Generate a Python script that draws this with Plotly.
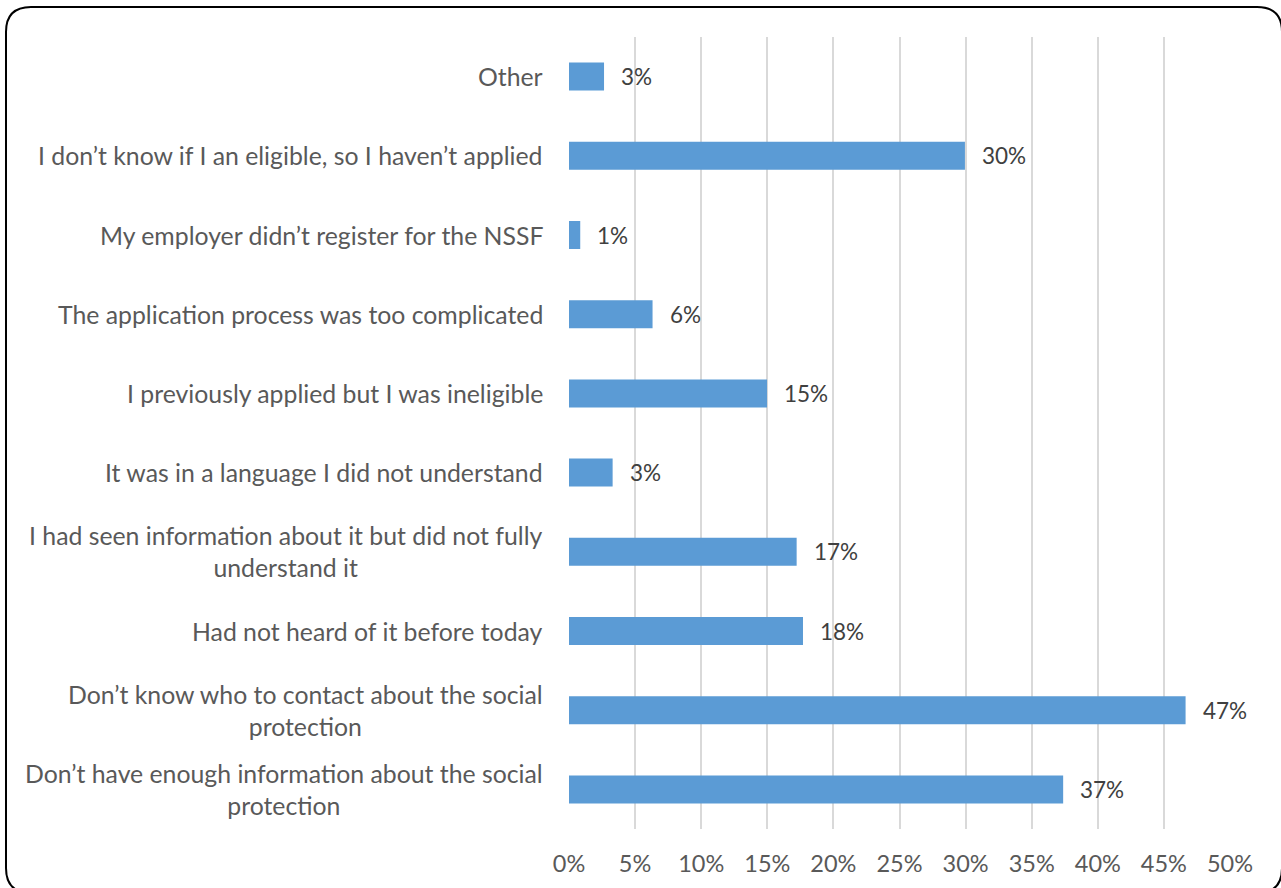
import plotly.graph_objects as go

# Survey responses: reasons for not applying, shares in percent
reasons = [
    "Other",
    "I don’t know if I an eligible, so I haven’t applied",
    "My employer didn’t register for the NSSF",
    "The application process was too complicated",
    "I previously applied but I was ineligible",
    "It was in a language I did not understand",
    "I had seen information about it but did not fully<br>understand it",
    "Had not heard of it before today",
    "Don’t know who to contact about the social<br>protection",
    "Don’t have enough information about the social<br>protection",
]
shares = [2.65, 29.95, 0.85, 6.32, 14.98, 3.30, 17.22, 17.70, 46.64, 37.38]
x_ticks = [0, 5, 10, 15, 20, 25, 30, 35, 40, 45, 50]
x_tick_labels = [f"{t}%" for t in x_ticks]

W, H = 1281, 888
ML, MR, MT, MB = 569, 51, 37, 59
PW, PH = W - ML - MR, H - MT - MB

FONT = "Lato"
BAR = "#5B9BD5"
AXIS_TXT = "#595959"
LABEL_TXT = "#404040"

fig = go.Figure(
    go.Bar(
        x=shares,
        y=reasons,
        orientation="h",
        marker=dict(color=BAR, line=dict(width=0)),
        width=0.354,
        hoverinfo="skip",
    )
)

annotations = []
# Category labels, lines centred on each other, left of the plot
for r in reasons:
    annotations.append(dict(
        x=0, xref="paper", y=r, yref="y",
        xanchor="right", yanchor="middle", xshift=-24,
        text=r, showarrow=False, align="center",
        font=dict(family=FONT, size=24.8, color=AXIS_TXT),
    ))
# Value labels past the bar ends
for r, v in zip(reasons, shares):
    annotations.append(dict(
        x=v, xref="x", y=r, yref="y",
        xanchor="left", yanchor="middle", xshift=15,
        text=f"{v:.0f}%", showarrow=False,
        font=dict(family=FONT, size=22.5, color=LABEL_TXT),
    ))


def px(xp, yp):
    return (xp - ML) / PW, (H - MB - yp) / PH


# Rounded outer frame
L, T, R, B, RAD = 6, 7, 1282, 893, 25
pts = [
    ("M", [(L + RAD, T)]),
    ("L", [(R - RAD, T)]),
    ("Q", [(R, T), (R, T + RAD)]),
    ("L", [(R, B - RAD)]),
    ("Q", [(R, B), (R - RAD, B)]),
    ("L", [(L + RAD, B)]),
    ("Q", [(L, B), (L, B - RAD)]),
    ("L", [(L, T + RAD)]),
    ("Q", [(L, T), (L + RAD, T)]),
]
path = ""
for cmd, ps in pts:
    path += cmd + " " + " ".join(f"{px(a, b)[0]:.5f},{px(a, b)[1]:.5f}" for a, b in ps) + " "
path += "Z"

fig.update_layout(
    width=W, height=H,
    margin=dict(l=ML, r=MR, t=MT, b=MB, pad=0),
    paper_bgcolor="white", plot_bgcolor="white",
    showlegend=False,
    annotations=annotations,
    shapes=[dict(type="path", path=path, xref="paper", yref="paper",
                 line=dict(color="black", width=2), layer="above")],
    xaxis=dict(
        range=[0, 50], tickvals=x_ticks, ticktext=x_tick_labels,
        showgrid=True, gridcolor="#D9D9D9", gridwidth=2,
        zeroline=False, showline=False, ticks="",
        tickfont=dict(family=FONT, size=23.5, color=AXIS_TXT),
        ticklabelstandoff=18, fixedrange=True,
    ),
    yaxis=dict(
        categoryorder="array", categoryarray=reasons,
        autorange="reversed", showticklabels=False,
        showgrid=False, zeroline=False, showline=False, ticks="",
        fixedrange=True,
    ),
)

fig.write_html("out.html", config=dict(displayModeBar=False))
